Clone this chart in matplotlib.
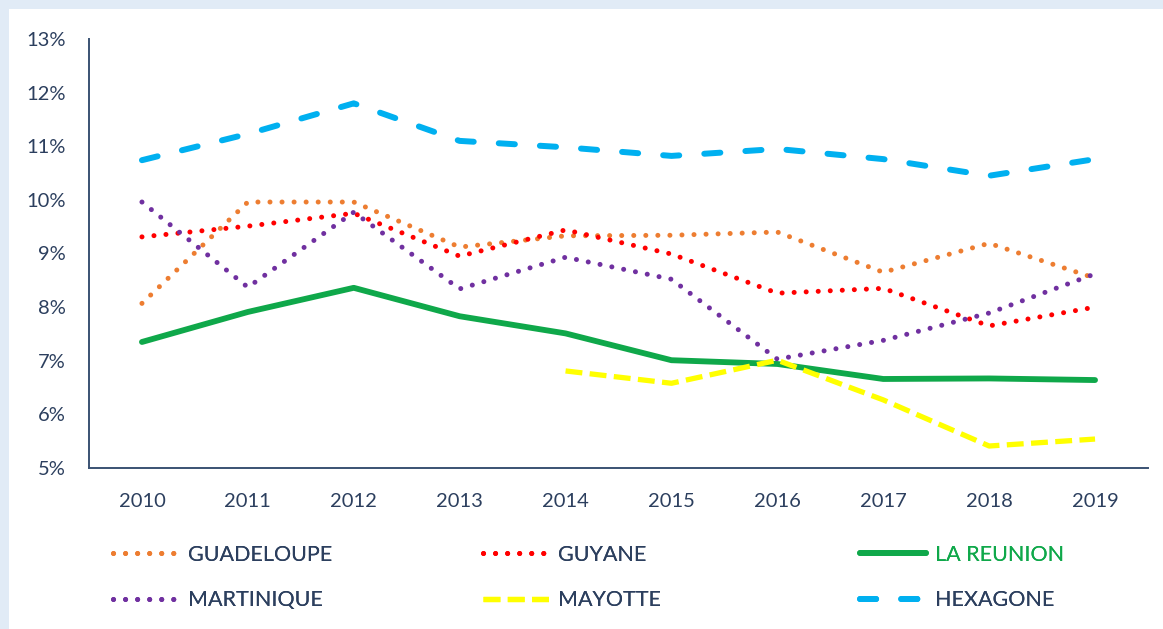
import numpy as np
import matplotlib.pyplot as plt
from matplotlib.patches import Rectangle

plt.rcParams['font.family'] = ['Lato', 'DejaVu Sans']

# data (%)
years = ['2010', '2011', '2012', '2013', '2014', '2015', '2016', '2017', '2018', '2019']
guadeloupe = [8.07, 9.96, 9.96, 9.12, 9.33, 9.34, 9.40, 8.65, 9.19, 8.54]
guyane = [9.31, 9.51, 9.75, 8.95, 9.44, 8.99, 8.26, 8.35, 7.65, 8.00]
la_reunion = [7.35, 7.91, 8.36, 7.83, 7.51, 7.01, 6.94, 6.66, 6.67, 6.64]
martinique = [9.96, 8.37, 9.77, 8.34, 8.93, 8.52, 7.03, 7.38, 7.89, 8.62]
mayotte_years = ['2014', '2015', '2016', '2017', '2018', '2019']
mayotte = [6.81, 6.58, 7.01, 6.27, 5.41, 5.54]
hexagone = [10.74, 11.23, 11.80, 11.10, 10.98, 10.82, 10.95, 10.76, 10.45, 10.76]
y_ticks = [5, 6, 7, 8, 9, 10, 11, 12, 13]

text_col = '#2c3f5e'
dot = (0, (0.01, 2.4))

fig = plt.figure(figsize=(11.63, 6.29), dpi=100, facecolor='#e1ebf6')
fig.patches.append(Rectangle((9 / 1163, 0), 1, 620 / 629, transform=fig.transFigure,
                             facecolor='white', edgecolor='none', zorder=-1))
ax = fig.add_axes([89 / 1163, 161 / 629, 1059 / 1163, 429 / 629])
ax.set_facecolor('none')
ax.set_zorder(1)

x = np.arange(len(years))
xm = np.arange(len(years) - len(mayotte_years), len(years))

l1, = ax.plot(x, guadeloupe, color='#ed7d31', lw=3.6, ls=dot, dash_capstyle='round', label='GUADELOUPE')
l2, = ax.plot(x, guyane, color='#ff0000', lw=3.6, ls=dot, dash_capstyle='round', label='GUYANE')
l3, = ax.plot(x, la_reunion, color='#0fa84a', lw=4.2, solid_capstyle='round', label='LA REUNION')
l4, = ax.plot(x, martinique, color='#7030a0', lw=3.6, ls=dot, dash_capstyle='round', label='MARTINIQUE')
l5, = ax.plot(xm, mayotte, color='#ffff00', lw=3.8, ls=(0, (3.2, 1.4)), label='MAYOTTE')
l6, = ax.plot(x, hexagone, color='#00b0f0', lw=4.3, ls=(0, (2.7, 4.2)), dash_capstyle='round', label='HEXAGONE')

ax.set_xlim(-0.5, 9.5)
ax.set_ylim(5, 13)
ax.set_xticks(x, years)
ax.set_yticks(y_ticks, [f'{v}%' for v in y_ticks])
ax.tick_params(length=0, labelsize=14.5, labelcolor=text_col)
ax.tick_params(axis='y', pad=17)
ax.tick_params(axis='x', pad=18)
for s in ['top', 'right']:
    ax.spines[s].set_visible(False)
for s in ['left', 'bottom']:
    ax.spines[s].set_color('#3a5273')
    ax.spines[s].set_linewidth(1.4)

# legend: three columns, placed one by one
cols = [([l1, l4], 104), ([l2, l5], 474), ([l3, l6], 851)]
for handles, xp in cols:
    leg = fig.legend(handles=handles, loc='upper left', bbox_to_anchor=(xp / 1163, 1 - 536 / 629),
                     frameon=False, fontsize=15.5, handlelength=3.1, handletextpad=0.4,
                     labelspacing=1.2, borderaxespad=0)
    for t in leg.get_texts():
        t.set_color(text_col)
    if l3 in handles:
        leg.get_texts()[0].set_color('#0fa84a')
    fig.add_artist(leg)

fig.savefig('out.png', dpi=100, facecolor=fig.get_facecolor())
